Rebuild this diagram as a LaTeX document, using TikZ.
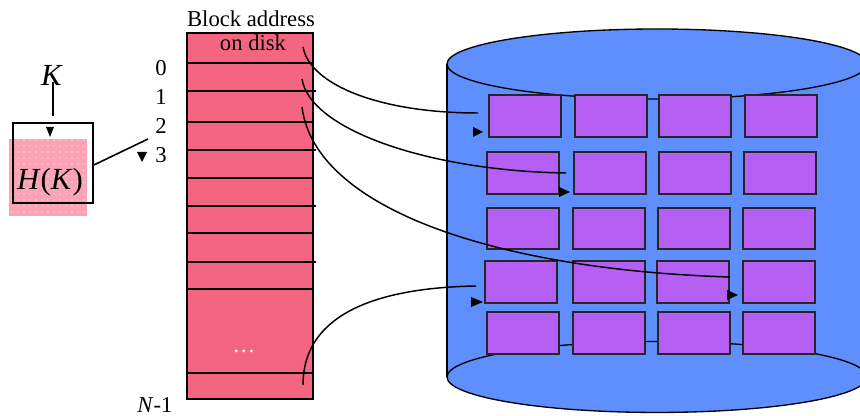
\documentclass[tikz,border=0pt]{standalone}
\usepackage{fontspec}
\setmainfont{Liberation Serif}
\usetikzlibrary{patterns.meta}
\definecolor{tablered}{RGB}{244,102,128}
\definecolor{cylblue}{RGB}{95,142,255}
\definecolor{blkpurple}{RGB}{182,95,245}
\definecolor{hashpink}{RGB}{251,163,181}
\tikzset{
  txt/.style={font=\fontsize{17}{20}\selectfont, inner sep=0pt},
  blk/.style={draw=black!85, fill=blkpurple, line width=1.3pt, minimum width=54pt, minimum height=31pt, inner sep=0pt},
  link/.style={line width=1.1pt},
  rowline/.style={line width=1.1pt},
}
\begin{document}
\begin{tikzpicture}[x=0.75pt,y=-0.75pt,line width=1pt]
\useasboundingbox (0,0) rectangle (860,416);
\clip (0,0) rectangle (860,416);

% ---------- cylinder (disk) ----------
\fill[cylblue] (447,64) -- (447,377) arc[start angle=180,end angle=360,x radius=157.5pt,y radius=26.6pt] -- (870,64) -- cycle;
\draw (447,64) -- (447,377);
\filldraw[fill=cylblue] (657,377) ellipse [x radius=157.5pt, y radius=26.6pt];
\filldraw[fill=cylblue] (657,64) ellipse [x radius=157.5pt, y radius=26.25pt];

% blocks
\node[blk] (b11) at (525,116) {};
\node[blk] (b12) at (611,116) {};
\node[blk] (b13) at (695,116) {};
\node[blk] (b14) at (781,116) {};
\node[blk] (b21) at (523,173) {};
\node[blk] (b22) at (610,173) {};
\node[blk] (b23) at (695,173) {};
\node[blk] (b24) at (780,173) {};
\node[blk] (b31) at (523,228.5) {};
\node[blk] (b32) at (609,228.5) {};
\node[blk] (b33) at (694,228.5) {};
\node[blk] (b34) at (779,228.5) {};
\node[blk] (b41) at (521,282) {};
\node[blk] (b42) at (609,282) {};
\node[blk] (b43) at (693,282) {};
\node[blk] (b44) at (779,282) {};
\node[blk] (b51) at (523,333) {};
\node[blk] (b52) at (609,333) {};
\node[blk] (b53) at (694,333) {};
\node[blk] (b54) at (779,333) {};

% ---------- hash function box ----------
\fill[hashpink] (9,139) rectangle (87,216);
\fill[pattern={Dots[distance=4.5pt,radius=0.45pt]}, pattern color=white] (9,139) rectangle (87,216);
\node[draw, line width=1.3pt, minimum width=60pt, minimum height=60pt, inner sep=0pt] (hbox) at (53,163) {};
\node[font=\fontsize{23}{26}\selectfont, inner sep=0pt] (hk) at (50,182) {\textit{H}(\textit{K})};
\node[font=\fontsize{23}{26}\selectfont, inner sep=0pt] (K) at (52,75) {\textit{K}};
\draw[line width=1.2pt] (53,82) -- ([yshift=4.5pt]hbox.north);
\fill (46,127) -- (54,127) -- (50,137) -- cycle;
\coordinate (hl) at (148,139);
\draw[line width=1.2pt] ([yshift=-1.5pt]hbox.east) -- (hl);

% ---------- table ----------
\node[draw, fill=tablered, line width=1.2pt, minimum width=94.5pt, minimum height=274.5pt, inner sep=0pt] (tab) at (250,216) {};
\foreach \yy/\xe in {63/314,91/316,122/314,150/316,178/314,206/316,233/314,262/316,289/314,373/314}
  \draw[rowline] (187,\yy) -- (\xe,\yy);
\node[txt] (ba) at (251,19) {Block address};
\node[txt] (od) at (253,43) {on disk};
\node[txt, text=white] (dots) at (244,351) {\dots};

\node[txt] (n0) at (161,68) {0};
\node[txt] (n1) at (161,97) {1};
\node[txt] (n2) at (161,126) {2};
\node[txt] (n3) at (161,155) {3};
\fill (137,152) -- (147,152) -- (142,162) -- cycle;
\node[txt] (nn) at (155,405) {\textit{N}-1};

% ---------- pointers ----------
\coordinate (s0) at (303,47);
\coordinate (s1) at (302,79);
\coordinate (s2) at (302,107);
\coordinate (s3) at (303,385);
\coordinate (e0) at (478,113);
\coordinate (e1) at (566,173);
\coordinate (e2) at (730,277);
\coordinate (e3) at (476,286);
\draw[link] (s0) .. controls (310,85) and (380,113) .. (e0);
\draw[link] (s1) .. controls (310,130) and (430,171) .. (e1);
\draw[link] (s2) .. controls (315,210) and (500,270) .. (e2);
\draw[link] (s3) .. controls (303,320) and (365,288) .. (e3);

\fill (473,127) -- (483,132) -- (473,137) -- cycle;
\fill (559,187) -- (570,192) -- (559,197) -- cycle;
\fill (727,290) -- (738,295) -- (727,300) -- cycle;
\fill (471,297) -- (483,302) -- (471,307) -- cycle;
\end{tikzpicture}
\end{document}
